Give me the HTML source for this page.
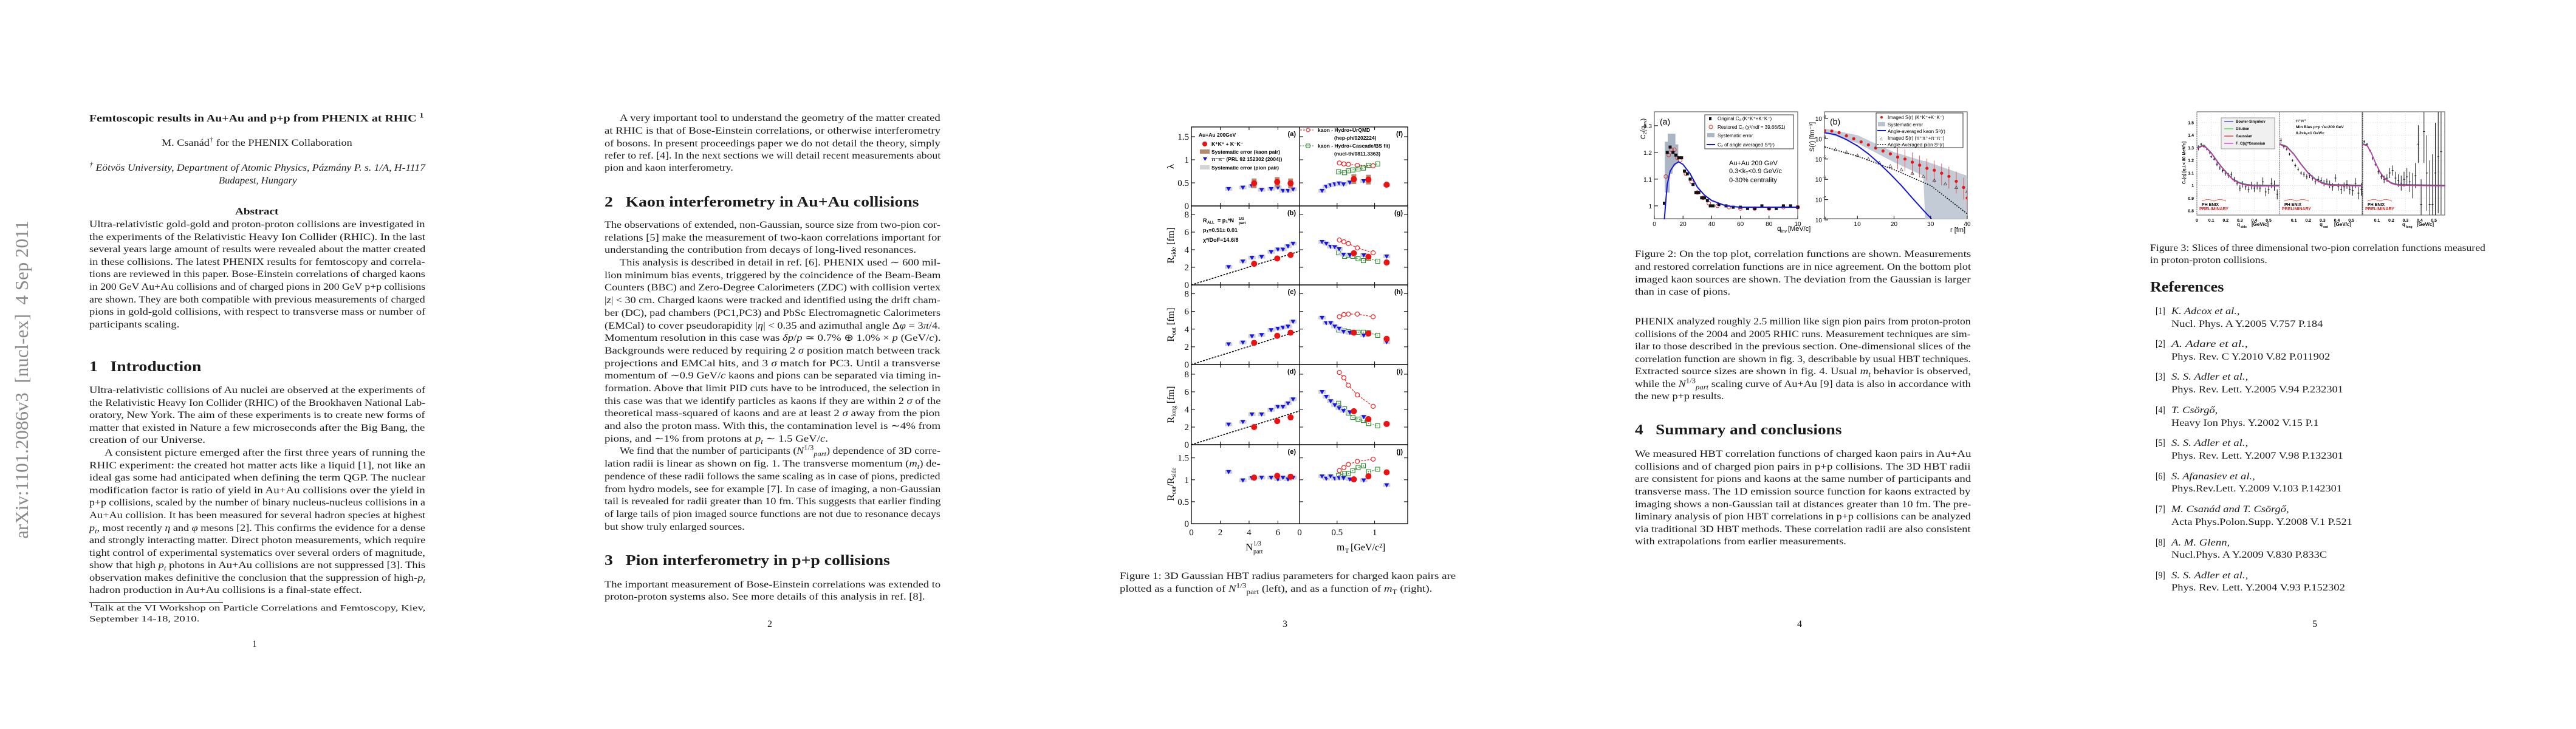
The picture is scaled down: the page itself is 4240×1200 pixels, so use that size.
<!DOCTYPE html>
<html><head><meta charset="utf-8"><title>Femtoscopic results in Au+Au and p+p from PHENIX at RHIC</title>
<style>
html,body{margin:0;padding:0;background:#fff;}
body{width:4240px;height:1200px;position:relative;overflow:hidden;font-family:"Liberation Serif",serif;color:#1a1a1a;}
.ln{position:absolute;white-space:nowrap;font-size:16px;line-height:20px;transform-origin:0 50%;}
.b{font-weight:bold;}
.it{font-style:italic;}
.h{font-weight:bold;font-size:24px;line-height:28px;}
.sm{font-size:14px;}
sub,sup{font-size:70%;line-height:0;}
#arxiv{position:absolute;left:36px;top:625px;transform:translate(-50%,-50%) rotate(-90deg);white-space:nowrap;font-size:31px;color:#8a8a8a;font-family:"Liberation Serif",serif;}
#charts{position:absolute;left:0;top:0;}
.rule{position:absolute;height:1px;background:#333;}
</style></head>
<body>

<div id="arxiv">arXiv:1101.2086v3&nbsp; [nucl-ex]&nbsp; 4 Sep 2011</div>

<!-- PAGE 1 -->
<div>
<div class="ln b" data-w="551" style="left:147px;top:185px;font-size:17px">Femtoscopic results in Au+Au and p+p from PHENIX at RHIC <sup>1</sup></div>
<div class="ln" data-w="314" style="left:266px;top:226px">M. Csanád<sup>†</sup> for the PHENIX Collaboration</div>
<div class="ln it" data-w="553" style="left:147px;top:267px"><sup>†</sup> Eötvös University, Department of Atomic Physics, Pázmány P. s. 1/A, H-1117</div>
<div class="ln it" data-w="128" style="left:360px;top:288px">Budapest, Hungary</div>
<div class="ln b" data-w="72" style="left:387px;top:339px">Abstract</div>
<div>
<div class="ln" data-w="553" style="left:147px;top:360px">Ultra-relativistic gold-gold and proton-proton collisions are investigated in</div>
<div class="ln" data-w="553" style="left:147px;top:381px">the experiments of the Relativistic Heavy Ion Collider (RHIC). In the last</div>
<div class="ln" data-w="553" style="left:147px;top:401px">several years large amount of results were revealed about the matter created</div>
<div class="ln" data-w="553" style="left:147px;top:422px">in these collisions. The latest PHENIX results for femtoscopy and correla-</div>
<div class="ln" data-w="553" style="left:147px;top:442px">tions are reviewed in this paper. Bose-Einstein correlations of charged kaons</div>
<div class="ln" data-w="553" style="left:147px;top:463px">in 200 GeV Au+Au collisions and of charged pions in 200 GeV p+p collisions</div>
<div class="ln" data-w="553" style="left:147px;top:484px">are shown. They are both compatible with previous measurements of charged</div>
<div class="ln" data-w="553" style="left:147px;top:504px">pions in gold-gold collisions, with respect to transverse mass or number of</div>
<div class="ln l" style="left:147px;top:525px">participants scaling.</div>
</div>
<div class="ln h" data-w="184" style="left:147px;top:590px">1&nbsp;&nbsp;&nbsp;Introduction</div>
<div>
<div class="ln" data-w="553" style="left:147px;top:633px">Ultra-relativistic collisions of Au nuclei are observed at the experiments of</div>
<div class="ln" data-w="553" style="left:147px;top:654px">the Relativistic Heavy Ion Collider (RHIC) of the Brookhaven National Lab-</div>
<div class="ln" data-w="553" style="left:147px;top:674px">oratory, New York. The aim of these experiments is to create new forms of</div>
<div class="ln" data-w="553" style="left:147px;top:695px">matter that existed in Nature a few microseconds after the Big Bang, the</div>
<div class="ln l" style="left:147px;top:715px">creation of our Universe.</div>
<div class="ln" data-w="528" style="left:172px;top:736px">A consistent picture emerged after the first three years of running the</div>
<div class="ln" data-w="553" style="left:147px;top:757px">RHIC experiment: the created hot matter acts like a liquid [1], not like an</div>
<div class="ln" data-w="553" style="left:147px;top:777px">ideal gas some had anticipated when defining the term QGP. The nuclear</div>
<div class="ln" data-w="553" style="left:147px;top:798px">modification factor is ratio of yield in Au+Au collisions over the yield in</div>
<div class="ln" data-w="553" style="left:147px;top:818px">p+p collisions, scaled by the number of binary nucleus-nucleus collisions in a</div>
<div class="ln" data-w="553" style="left:147px;top:839px">Au+Au collision. It has been measured for several hadron species at highest</div>
<div class="ln" data-w="553" style="left:147px;top:860px"><i>p<sub>t</sub></i>, most recently <i>η</i> and <i>φ</i> mesons [2]. This confirms the evidence for a dense</div>
<div class="ln" data-w="553" style="left:147px;top:880px">and strongly interacting matter. Direct photon measurements, which require</div>
<div class="ln" data-w="553" style="left:147px;top:901px">tight control of experimental systematics over several orders of magnitude,</div>
<div class="ln" data-w="553" style="left:147px;top:921px">show that high <i>p<sub>t</sub></i> photons in Au+Au collisions are not suppressed [3]. This</div>
<div class="ln" data-w="553" style="left:147px;top:942px">observation makes definitive the conclusion that the suppression of high-<i>p<sub>t</sub></i></div>
<div class="ln l" style="left:147px;top:962px">hadron production in Au+Au collisions is a final-state effect.</div>
</div>
<div class="rule" style="left:147px;top:991px;width:220px"></div>
<div class="ln sm" data-w="553" style="left:147px;top:992px"><sup>1</sup>Talk at the VI Workshop on Particle Correlations and Femtoscopy, Kiev,</div>
<div class="ln sm l" style="left:147px;top:1010px">September 14-18, 2010.</div>
<div class="ln" style="left:415px;top:1051px">1</div>
</div>

<!-- PAGE 2 -->
<div>
<div class="ln" data-w="528" style="left:1020px;top:185px">A very important tool to understand the geometry of the matter created</div>
<div class="ln" data-w="553" style="left:995px;top:206px">at RHIC is that of Bose-Einstein correlations, or otherwise interferometry</div>
<div class="ln" data-w="553" style="left:995px;top:227px">of bosons. In present proceedings paper we do not detail the theory, simply</div>
<div class="ln" data-w="553" style="left:995px;top:247px">refer to ref. [4]. In the next sections we will detail recent measurements about</div>
<div class="ln l" style="left:995px;top:267px">pion and kaon interferometry.</div>
<div class="ln h" data-w="518" style="left:995px;top:319px">2&nbsp;&nbsp;&nbsp;Kaon interferometry in Au+Au collisions</div>
<div>
<div class="ln" data-w="553" style="left:995px;top:361px">The observations of extended, non-Gaussian, source size from two-pion cor-</div>
<div class="ln" data-w="553" style="left:995px;top:382px">relations [5] make the measurement of two-kaon correlations important for</div>
<div class="ln l" style="left:995px;top:402px">understanding the contribution from decays of long-lived resonances.</div>
<div class="ln" data-w="528" style="left:1020px;top:423px">This analysis is described in detail in ref. [6]. PHENIX used ∼ 600 mil-</div>
<div class="ln" data-w="553" style="left:995px;top:444px">lion minimum bias events, triggered by the coincidence of the Beam-Beam</div>
<div class="ln" data-w="553" style="left:995px;top:464px">Counters (BBC) and Zero-Degree Calorimeters (ZDC) with collision vertex</div>
<div class="ln" data-w="553" style="left:995px;top:485px">|<i>z</i>| &lt; 30 cm. Charged kaons were tracked and identified using the drift cham-</div>
<div class="ln" data-w="553" style="left:995px;top:506px">ber (DC), pad chambers (PC1,PC3) and PbSc Electromagnetic Calorimeters</div>
<div class="ln" data-w="553" style="left:995px;top:527px">(EMCal) to cover pseudorapidity |<i>η</i>| &lt; 0.35 and azimuthal angle Δ<i>φ</i> = 3<i>π</i>/4.</div>
<div class="ln" data-w="553" style="left:995px;top:547px">Momentum resolution in this case was <i>δp</i>/<i>p</i> ≃ 0.7% ⊕ 1.0% × <i>p</i> (GeV/<i>c</i>).</div>
<div class="ln" data-w="553" style="left:995px;top:568px">Backgrounds were reduced by requiring 2 <i>σ</i> position match between track</div>
<div class="ln" data-w="553" style="left:995px;top:589px">projections and EMCal hits, and 3 <i>σ</i> match for PC3. Until a transverse</div>
<div class="ln" data-w="553" style="left:995px;top:609px">momentum of ∼0.9 GeV/<i>c</i> kaons and pions can be separated via timing in-</div>
<div class="ln" data-w="553" style="left:995px;top:630px">formation. Above that limit PID cuts have to be introduced, the selection in</div>
<div class="ln" data-w="553" style="left:995px;top:651px">this case was that we identify particles as kaons if they are within 2 <i>σ</i> of the</div>
<div class="ln" data-w="553" style="left:995px;top:671px">theoretical mass-squared of kaons and are at least 2 <i>σ</i> away from the pion</div>
<div class="ln" data-w="553" style="left:995px;top:692px">and also the proton mass. With this, the contamination level is ∼4% from</div>
<div class="ln l" style="left:995px;top:713px">pions, and ∼1% from protons at <i>p<sub>t</sub></i> ∼ 1.5 GeV/<i>c</i>.</div>
<div class="ln" data-w="528" style="left:1020px;top:733px">We find that the number of participants (<i>N</i><sup>1/3</sup><sub><i>part</i></sub>) dependence of 3D corre-</div>
<div class="ln" data-w="553" style="left:995px;top:754px">lation radii is linear as shown on fig. 1. The transverse momentum (<i>m<sub>t</sub></i>) de-</div>
<div class="ln" data-w="553" style="left:995px;top:775px">pendence of these radii follows the same scaling as in case of pions, predicted</div>
<div class="ln" data-w="553" style="left:995px;top:796px">from hydro models, see for example [7]. In case of imaging, a non-Gaussian</div>
<div class="ln" data-w="553" style="left:995px;top:816px">tail is revealed for radii greater than 10 fm. This suggests that earlier finding</div>
<div class="ln" data-w="553" style="left:995px;top:837px">of large tails of pion imaged source functions are not due to resonance decays</div>
<div class="ln l" style="left:995px;top:858px">but show truly enlarged sources.</div>
</div>
<div class="ln h" data-w="470" style="left:995px;top:909px">3&nbsp;&nbsp;&nbsp;Pion interferometry in p+p collisions</div>
<div class="ln" data-w="553" style="left:995px;top:953px">The important measurement of Bose-Einstein correlations was extended to</div>
<div class="ln l" style="left:995px;top:973px">proton-proton systems also. See more details of this analysis in ref. [8].</div>
<div class="ln" style="left:1263px;top:1018px">2</div>
</div>

<!-- PAGE 3 -->
<div>
<div class="ln" data-w="553" style="left:1843px;top:939px">Figure 1: 3D Gaussian HBT radius parameters for charged kaon pairs are</div>
<div class="ln l" style="left:1843px;top:960px">plotted as a function of <i>N</i><sup>1/3</sup><sub>part</sub> (left), and as a function of <i>m</i><sub>T</sub> (right).</div>
<div class="ln" style="left:2111px;top:1018px">3</div>
</div>

<!-- PAGE 4 -->
<div>
<div class="ln" data-w="553" style="left:2691px;top:409px">Figure 2: On the top plot, correlation functions are shown. Measurements</div>
<div class="ln" data-w="553" style="left:2691px;top:430px">and restored correlation functions are in nice agreement. On the bottom plot</div>
<div class="ln" data-w="553" style="left:2691px;top:451px">imaged kaon sources are shown. The deviation from the Gaussian is larger</div>
<div class="ln l" style="left:2691px;top:471px">than in case of pions.</div>
<div class="ln" data-w="553" style="left:2691px;top:520px">PHENIX analyzed roughly 2.5 million like sign pion pairs from proton-proton</div>
<div class="ln" data-w="553" style="left:2691px;top:541px">collisions of the 2004 and 2005 RHIC runs. Measurement techniques are sim-</div>
<div class="ln" data-w="553" style="left:2691px;top:561px">ilar to those described in the previous section. One-dimensional slices of the</div>
<div class="ln" data-w="553" style="left:2691px;top:582px">correlation function are shown in fig. 3, describable by usual HBT techniques.</div>
<div class="ln" data-w="553" style="left:2691px;top:602px">Extracted source sizes are shown in fig. 4. Usual <i>m<sub>t</sub></i> behavior is observed,</div>
<div class="ln" data-w="553" style="left:2691px;top:623px">while the <i>N</i><sup>1/3</sup><sub><i>part</i></sub> scaling curve of Au+Au [9] data is also in accordance with</div>
<div class="ln l" style="left:2691px;top:643px">the new p+p results.</div>
<div class="ln h" data-w="340" style="left:2691px;top:694px">4&nbsp;&nbsp;&nbsp;Summary and conclusions</div>
<div>
<div class="ln" data-w="553" style="left:2691px;top:738px">We measured HBT correlation functions of charged kaon pairs in Au+Au</div>
<div class="ln" data-w="553" style="left:2691px;top:759px">collisions and of charged pion pairs in p+p collisions. The 3D HBT radii</div>
<div class="ln" data-w="553" style="left:2691px;top:779px">are consistent for pions and kaons at the same number of participants and</div>
<div class="ln" data-w="553" style="left:2691px;top:800px">transverse mass. The 1D emission source function for kaons extracted by</div>
<div class="ln" data-w="553" style="left:2691px;top:821px">imaging shows a non-Gaussian tail at distances greater than 10 fm. The pre-</div>
<div class="ln" data-w="553" style="left:2691px;top:841px">liminary analysis of pion HBT correlations in p+p collisions can be analyzed</div>
<div class="ln" data-w="553" style="left:2691px;top:862px">via traditional 3D HBT methods. These correlation radii are also consistent</div>
<div class="ln l" style="left:2691px;top:882px">with extrapolations from earlier measurements.</div>
</div>
<div class="ln" style="left:2958px;top:1018px">4</div>
</div>

<!-- PAGE 5 -->
<div>
<div class="ln" data-w="552" style="left:3539px;top:399px">Figure 3: Slices of three dimensional two-pion correlation functions measured</div>
<div class="ln l" style="left:3539px;top:419px">in proton-proton collisions.</div>
<div class="ln h" data-w="122" style="left:3539px;top:459px">References</div>
<div>
<div class="ln" data-w="16" style="left:3548px;top:503px">[1]</div><div class="ln it" data-w="112" style="left:3574px;top:503px">K. Adcox et al.,</div><div class="ln" data-w="249" style="left:3574px;top:524px">Nucl. Phys. A Y.2005 V.757 P.184</div>
<div class="ln" data-w="16" style="left:3548px;top:557px">[2]</div><div class="ln it" data-w="126" style="left:3574px;top:557px">A. Adare et al.,</div><div class="ln" data-w="261" style="left:3574px;top:578px">Phys. Rev. C Y.2010 V.82 P.011902</div>
<div class="ln" data-w="16" style="left:3548px;top:611px">[3]</div><div class="ln it" data-w="126" style="left:3574px;top:611px">S. S. Adler et al.,</div><div class="ln" data-w="283" style="left:3574px;top:632px">Phys. Rev. Lett. Y.2005 V.94 P.232301</div>
<div class="ln" data-w="16" style="left:3548px;top:666px">[4]</div><div class="ln it" data-w="76" style="left:3574px;top:666px">T. Csörgő,</div><div class="ln" data-w="242" style="left:3574px;top:687px">Heavy Ion Phys. Y.2002 V.15 P.1</div>
<div class="ln" data-w="16" style="left:3548px;top:720px">[5]</div><div class="ln it" data-w="126" style="left:3574px;top:720px">S. S. Adler et al.,</div><div class="ln" data-w="283" style="left:3574px;top:741px">Phys. Rev. Lett. Y.2007 V.98 P.132301</div>
<div class="ln" data-w="16" style="left:3548px;top:775px">[6]</div><div class="ln it" data-w="138" style="left:3574px;top:775px">S. Afanasiev et al.,</div><div class="ln" data-w="281" style="left:3574px;top:795px">Phys.Rev.Lett. Y.2009 V.103 P.142301</div>
<div class="ln" data-w="16" style="left:3548px;top:829px">[7]</div><div class="ln it" data-w="193" style="left:3574px;top:829px">M. Csanád and T. Csörgő,</div><div class="ln" data-w="298" style="left:3574px;top:850px">Acta Phys.Polon.Supp. Y.2008 V.1 P.521</div>
<div class="ln" data-w="16" style="left:3548px;top:884px">[8]</div><div class="ln it" data-w="96" style="left:3574px;top:884px">A. M. Glenn,</div><div class="ln" data-w="256" style="left:3574px;top:904px">Nucl.Phys. A Y.2009 V.830 P.833C</div>
<div class="ln" data-w="16" style="left:3548px;top:938px">[9]</div><div class="ln it" data-w="126" style="left:3574px;top:938px">S. S. Adler et al.,</div><div class="ln" data-w="286" style="left:3574px;top:958px">Phys. Rev. Lett. Y.2004 V.93 P.152302</div>
</div>
<div class="ln" style="left:3806px;top:1018px">5</div>
</div>

<svg id="charts" width="4240" height="1200" viewBox="0 0 4240 1200"></svg>

<script>
// ---------- Text line fitting ----------
(function(){
  let last=1;
  document.querySelectorAll('.ln').forEach(function(el){
    const w=el.offsetWidth;
    let s=last;
    if(el.dataset.w){ s=parseFloat(el.dataset.w)/w; if(!el.classList.contains('h')&&el.dataset.w>400) last=s; }
    else if(!el.classList.contains('l')) s=1;
    el.style.transform='scaleX('+s+')';
  });
})();

// ---------- Figure 1 data (N_part^1/3 and m_T) ----------
const npartPion=[2.58,3.57,4.20,4.87,5.53,6.0,6.35,6.70,7.05];
const npartKaon=[4.35,5.95,6.88];
const lambdaPionN=[0.37,0.40,0.43,0.35,0.37,0.40,0.33,0.33,0.36];
const lambdaKaonN=[0.49,0.52,0.49];
const rsidePionN=[2.04,2.67,3.1,3.2,3.75,4.04,4.04,4.4,4.7];
const rsideKaonN=[2.4,3.0,3.4];
const routPionN=[2.3,2.5,3.2,3.35,3.9,4.06,4.18,4.3,4.85];
const routKaonN=[2.45,3.25,3.6];
const rlongPionN=[2.3,2.6,3.45,3.45,3.95,4.3,4.3,4.7,5.15];
const rlongKaonN=[2.0,2.67,3.1];
const ratioPionN=[1.18,0.99,1.04,1.05,1.05,1.01,1.05,1.01,1.05];
const ratioKaonN=[1.05,1.09,1.07];
const fitP1=0.51;

const mtPion=[0.30,0.356,0.414,0.47,0.527,0.586,0.67,0.855,1.16];
const mtKaon=[0.723,0.917,1.16];
const mtHydro=[0.53,0.59,0.65,0.77,0.98];
const mtCasc=[0.52,0.60,0.65,0.71,0.78,0.85,0.92,1.04];
const lambdaPionM=[0.33,0.42,0.45,0.47,0.49,0.47,0.51,0.54,0.45];
const lambdaKaonM=[0.58,0.57,0.46];
const lambdaHydroM=[0.93,0.91,0.90,0.88,0.87];
const lambdaCascM=[0.74,0.72,0.76,0.78,0.80,0.82,0.88,0.91];
const rsidePionM=[4.9,4.7,4.35,4.3,4.07,3.45,3.38,3.38,3.24];
const rsideKaonM=[3.6,3.2,2.55];
const rsideHydroM=[5.1,4.9,4.7,4.2,3.65];
const rsideCascM=[3.65,3.25,3.38,3.25,2.97,2.76,3.03,2.69];
const routPionM=[5.3,4.7,4.7,4.3,4.07,3.72,3.6,3.3,2.55];
const routKaonM=[3.6,3.5,2.9];
const routHydroM=[5.4,5.65,5.7,5.7,5.4];
const routCascM=[3.9,3.8,3.7,3.65,3.65,3.65,3.6,3.3];
const rlongPionM=[6.0,5.45,4.95,4.5,4.15,3.85,3.7,3.15,2.4];
const rlongKaonM=[3.8,2.9,2.35];
const rlongHydroM=[8.2,7.6,6.75,5.65,4.35];
const rlongCascM=[4.7,4.07,3.6,3.1,2.9,2.75,2.4,2.15];
const ratioPionM=[1.08,1.03,1.08,1.03,1.04,1.04,1.01,0.99,0.88];
const ratioKaonM=[1.01,1.08,1.17];
const ratioHydroM=[1.21,1.28,1.35,1.42,1.47];
const ratioCascM=[1.1,1.14,1.14,1.21,1.28,1.32,1.18,1.24];

const tickLambda=[0,0.5,1,1.5];
const tickRadius=[0,2,4,6,8];
const tickNpart=[0,2,4,6];
const tickMt=[0,0.5,1];

// ---------- Figure 2 data ----------
const qOrig=[7,9,11,13,15,17,19,21,23,25,27,29,31,33,35,37,39,41,45,50,55,60,65,70,75,80,85,90,95,100];
const c2Orig=[1.01,1.20,1.22,1.20,1.19,1.18,1.18,1.13,1.12,1.10,1.08,1.05,1.05,1.03,1.03,1.02,1.00,1.00,1.005,1.0,0.995,0.995,0.99,0.99,1.0,0.99,0.99,1.0,1.0,0.995];
const qRest=[8,10,12,14,16,18,22,26,30,34,38,44,52,60,70,80,90,100];
const c2Rest=[1.11,1.19,1.21,1.21,1.18,1.17,1.12,1.09,1.05,1.03,1.01,1.0,0.995,0.99,0.99,0.99,0.995,0.995];
const qCurve=[7,8,9,11,14,17,20,25,30,35,40,50,60,80,100];
const c2Curve=[0.95,1.02,1.08,1.13,1.155,1.165,1.155,1.12,1.07,1.04,1.02,1.0,0.995,0.995,0.995];
const qSys=[9,11,13,15];
const c2SysLo=[1.05,1.12,1.15,1.16];
const c2SysHi=[1.24,1.27,1.27,1.23];

const rRed=[1,3,5,7,9,11,13,15,17,19,21,23,25,27,29,31,33,35,37,39,40];
const sRed=[2.5e-4,2.4e-4,2e-4,1.4e-4,1e-4,7e-5,5e-5,3.5e-5,2.5e-5,1.8e-5,1.25e-5,1e-5,7e-6,5e-6,3.5e-6,2.8e-6,2e-6,1.4e-6,8e-7,4e-7,1.2e-7];
const rBlue=[1,4,7,10,13,16,19,22,25,28,31];
const sBlue=[2e-4,1.6e-4,9e-5,4.5e-5,1.8e-5,6e-6,1.8e-6,5e-7,1.2e-7,3e-8,8e-9];
const rPion=[1,4,7,10,13,16,19,22,25,28,31,34,37,40];
const sPion=[4e-5,3e-5,2.2e-5,1.5e-5,1e-5,6.5e-6,4.5e-6,3e-6,2e-6,1.4e-6,9e-7,6e-7,4e-7,2.5e-7];
const rPionAvg=[1,10,20,30,40];
const sPionAvg=[4e-5,1.4e-5,3e-6,5e-7,2e-8];
const rBand=[1,10,20,28,28.5,40];
const sBandHi=[3.2e-4,1.5e-4,2.2e-5,8e-6,8e-6,1.5e-6];
const sBandLo=[2e-4,6e-5,7e-6,1.5e-6,1e-8,1e-8];

// ---------- Figure 3 data ----------
const qSide=[0.01,0.03,0.05,0.07,0.09,0.10,0.12,0.14,0.16,0.18,0.2,0.22,0.24,0.26,0.28,0.3,0.32,0.34,0.36,0.38,0.4,0.42,0.44,0.46,0.48,0.5,0.52,0.54,0.56];
const cSide=[1.30,1.33,1.31,1.29,1.26,1.23,1.21,1.17,1.14,1.12,1.10,1.08,1.09,1.05,1.02,0.98,1.01,0.99,0.97,1.0,0.98,1.0,0.98,1.03,0.95,0.97,1.02,1.0,0.93];
const eSide=[0.02,0.01,0.01,0.01,0.01,0.01,0.01,0.015,0.015,0.015,0.02,0.02,0.02,0.02,0.02,0.025,0.025,0.025,0.025,0.03,0.03,0.03,0.03,0.035,0.035,0.035,0.04,0.04,0.04];
const qOut=[0.01,0.03,0.05,0.07,0.09,0.11,0.13,0.15,0.17,0.19,0.21,0.23,0.25,0.27,0.29,0.31,0.33,0.35,0.37,0.39,0.41,0.43,0.45,0.47,0.49,0.51,0.53,0.55,0.57];
const cOut=[1.36,1.31,1.29,1.25,1.20,1.16,1.13,1.10,1.09,1.07,1.08,1.06,1.03,1.05,1.04,1.02,1.03,1.01,0.99,1.06,0.99,0.97,0.99,1.01,0.97,0.96,1.02,0.94,0.97];
const eOut=[0.02,0.015,0.01,0.01,0.01,0.015,0.015,0.015,0.02,0.02,0.02,0.02,0.02,0.025,0.025,0.025,0.025,0.03,0.03,0.03,0.03,0.035,0.035,0.035,0.04,0.04,0.04,0.05,0.05];
const qLong=[0.01,0.03,0.05,0.07,0.09,0.11,0.13,0.15,0.17,0.19,0.21,0.23,0.25,0.27,0.29,0.31,0.33,0.35,0.37,0.39,0.41,0.43,0.45,0.47,0.49,0.51,0.53,0.55];
const cLong=[1.35,1.33,1.28,1.22,1.17,1.11,1.07,1.05,1.06,1.10,1.12,1.06,1.04,1.02,1.05,1.07,1.03,1.0,1.08,1.33,0.85,1.43,1.10,0.85,0.85,1.10,1.23,1.27];
const eLong=[0.01,0.01,0.01,0.015,0.015,0.02,0.02,0.03,0.03,0.04,0.04,0.05,0.05,0.06,0.06,0.07,0.08,0.1,0.1,0.15,0.2,0.25,0.3,0.35,0.4,0.4,0.45,0.5];
const qCurveSide=[0,0.05,0.1,0.15,0.2,0.25,0.3,0.35,0.4,0.58];
const cCurveSide=[1.30,1.32,1.26,1.18,1.11,1.05,1.02,1.005,1.0,1.0];
const qCurveOut=[0,0.05,0.1,0.15,0.2,0.25,0.3,0.35,0.58];
const cCurveOut=[1.33,1.31,1.25,1.17,1.10,1.05,1.02,1.005,1.0];
const qCurveLong=[0,0.03,0.06,0.09,0.12,0.15,0.2,0.25,0.58];
const cCurveLong=[1.33,1.32,1.26,1.18,1.11,1.06,1.02,1.005,1.0];
const tickC2pp=[0.8,0.9,1,1.1,1.2,1.3,1.4,1.5];
const tickQ=[0,0.1,0.2,0.3,0.4,0.5];

// ---------- helpers ----------
const svg=document.getElementById('charts');
const NS='http://www.w3.org/2000/svg';
function mk(tag,attrs,name,parent){
  const e=document.createElementNS(NS,tag);
  for(const k in attrs) e.setAttribute(k,attrs[k]);
  
  
  (parent||svg).appendChild(e);
  return e;
}
function txt(x,y,s,attrs,name){const t=mk('text',Object.assign({x:x,y:y},attrs),name);t.textContent=s;return t;}
function span(t,s,attrs){const e=document.createElementNS(NS,'tspan');for(const k in attrs)e.setAttribute(k,attrs[k]);e.textContent=s;t.appendChild(e);return e;}
function lin(d0,d1,r0,r1){return function(v){return r0+(v-d0)/(d1-d0)*(r1-r0);};}
function poly(xs,ys,sx,sy){return xs.map(function(x,i){return sx(x).toFixed(1)+','+sy(ys[i]).toFixed(1);}).join(' ');}
const SANS='"Liberation Sans",sans-serif', SERIF='"Liberation Serif",serif';

// ---------- Figure 1 ----------
const f1 = mk('g',{},'figure-1');
const xL=lin(0,7.5,1961,2139), xR=lin(0,1.44,2139,2317);
const f1rows=[
 {top:209,bot:339,max:1.71,ticks:tickLambda,title:['λ','',''],lab:['(a)','(f)'],pN:lambdaPionN,kN:lambdaKaonN,pM:lambdaPionM,kM:lambdaKaonM,hM:lambdaHydroM,cM:lambdaCascM,fit:false},
 {top:339,bot:469,max:8.97,ticks:tickRadius,title:['R','side',' [fm]'],lab:['(b)','(g)'],pN:rsidePionN,kN:rsideKaonN,pM:rsidePionM,kM:rsideKaonM,hM:rsideHydroM,cM:rsideCascM,fit:true},
 {top:469,bot:600,max:9.0,ticks:tickRadius,title:['R','out',' [fm]'],lab:['(c)','(h)'],pN:routPionN,kN:routKaonN,pM:routPionM,kM:routKaonM,hM:routHydroM,cM:routCascM,fit:true},
 {top:600,bot:732,max:9.1,ticks:tickRadius,title:['R','long',' [fm]'],lab:['(d)','(i)'],pN:rlongPionN,kN:rlongKaonN,pM:rlongPionM,kM:rlongKaonM,hM:rlongHydroM,cM:rlongCascM,fit:true},
 {top:732,bot:862,max:1.8,ticks:tickLambda,title:['R','out','/R','side'],lab:['(e)','(j)'],pN:ratioPionN,kN:ratioKaonN,pM:ratioPionM,kM:ratioKaonM,hM:ratioHydroM,cM:ratioCascM,fit:false}
];
function pionMark(x,y,g){mk('rect',{x:x-6,y:y-3,width:12,height:6,fill:'#cfcfd8'},'pion-systematic-box',g);
  mk('path',{d:'M'+(x-4)+','+(y-3)+'L'+(x+4)+','+(y-3)+'L'+x+','+(y+4)+'Z',fill:'#1616e0'},'pion-point',g);}
function kaonMark(x,y,g,sys){ if(sys) mk('rect',{x:x-4,y:y-8,width:8,height:16,fill:'#b8896e'},'kaon-systematic-box',g);
  mk('circle',{cx:x,cy:y,r:5,fill:'#ee1111'},'kaon-point',g);}
f1rows.forEach(function(r,ri){
  const sy=lin(0,r.max,r.bot,r.top);
  const g=mk('g',{},'fig1-row-'+(ri+1),f1);
  mk('rect',{x:1961,y:r.top,width:356,height:r.bot-r.top,fill:'none',stroke:'#000','stroke-width':1.3},'panel-frame',g);
  mk('line',{x1:2139,y1:r.top,x2:2139,y2:r.bot,stroke:'#000','stroke-width':1.3},'panel-divider',g);
  r.ticks.forEach(function(t){
    mk('line',{x1:1961,y1:sy(t),x2:1967,y2:sy(t),stroke:'#000'},'y-tick',g);
    mk('line',{x1:2139,y1:sy(t),x2:2145,y2:sy(t),stroke:'#000'},'y-tick',g);
    mk('line',{x1:2311,y1:sy(t),x2:2317,y2:sy(t),stroke:'#000'},'y-tick',g);
    txt(1957,sy(t)+5,String(t),{'font-family':SERIF,'font-size':15,'text-anchor':'end'},'y-tick-label');
  });
  tickNpart.forEach(function(t){mk('line',{x1:xL(t),y1:r.bot,x2:xL(t),y2:r.bot-5,stroke:'#000'},'x-tick',g);mk('line',{x1:xL(t),y1:r.top,x2:xL(t),y2:r.top+5,stroke:'#000'},'x-tick',g);});
  tickMt.forEach(function(t){mk('line',{x1:xR(t),y1:r.bot,x2:xR(t),y2:r.bot-5,stroke:'#000'},'x-tick',g);mk('line',{x1:xR(t),y1:r.top,x2:xR(t),y2:r.top+5,stroke:'#000'},'x-tick',g);});
  const cyT=(r.top+r.bot)/2;
  const tt=mk('text',{x:1932,y:cyT,'font-family':SERIF,'font-size':16,'text-anchor':'middle',transform:'rotate(-90 1932 '+cyT+')'},'y-axis-title');
  span(tt,r.title[0],{});
  if(r.title[1]) span(tt,r.title[1],{'font-size':10,dy:3});
  if(r.title[2]) span(tt,r.title[2],{dy:-3});
  if(r.title[3]) span(tt,r.title[3],{'font-size':10,dy:3});
  txt(2133,r.top+15,r.lab[0],{'font-family':SANS,'font-size':11,'font-weight':'bold','text-anchor':'end'},'panel-label');
  txt(2309,r.top+15,r.lab[1],{'font-family':SANS,'font-size':11,'font-weight':'bold','text-anchor':'end'},'panel-label');
  if(r.fit) mk('line',{x1:xL(0),y1:sy(0),x2:xL(7.5),y2:sy(fitP1*7.5),stroke:'#000','stroke-width':1.6,'stroke-dasharray':'3,2'},'fit-line',g);
  npartPion.forEach(function(x,i){pionMark(xL(x),sy(r.pN[i]),g);});
  npartKaon.forEach(function(x,i){kaonMark(xL(x),sy(r.kN[i]),g,ri===0);});
  mk('polyline',{points:poly(mtHydro,r.hM,xR,sy),fill:'none',stroke:'#e22','stroke-width':1.3,'stroke-dasharray':'3,2'},'hydro-urqmd-line',g);
  mk('polyline',{points:poly(mtCasc,r.cM,xR,sy),fill:'none',stroke:'#2a8a2a','stroke-width':1.2,'stroke-dasharray':'2,2'},'hydro-cascade-line',g);
  mtHydro.forEach(function(x,i){mk('circle',{cx:xR(x),cy:sy(r.hM[i]),r:3.5,fill:'#fff',stroke:'#e22','stroke-width':1.2},'hydro-urqmd-point',g);});
  mtCasc.forEach(function(x,i){mk('rect',{x:xR(x)-3.5,y:sy(r.cM[i])-3.5,width:7,height:7,fill:'none',stroke:'#2a8a2a','stroke-width':1.1},'hydro-cascade-point',g);});
  mtPion.forEach(function(x,i){pionMark(xR(x),sy(r.pM[i]),g);});
  mtKaon.forEach(function(x,i){kaonMark(xR(x),sy(r.kM[i]),g,ri===0&&i<2);});
});
tickNpart.forEach(function(t){txt(xL(t),881,String(t),{'font-family':SERIF,'font-size':15,'text-anchor':'middle'},'x-tick-label');});
tickMt.forEach(function(t){txt(xR(t),881,String(t),{'font-family':SERIF,'font-size':15,'text-anchor':'middle'},'x-tick-label');});
txt(2050,906,'N',{'font-family':SERIF,'font-size':17},'x-axis-title-npart');
txt(2063,898,'1/3',{'font-family':SERIF,'font-size':10},'x-axis-title-exp');
txt(2063,911,'part',{'font-family':SERIF,'font-size':10},'x-axis-title-sub');
txt(2200,906,'m',{'font-family':SERIF,'font-size':17},'x-axis-title-mt');
txt(2214,910,'T',{'font-family':SERIF,'font-size':10},'x-axis-title-sub');
txt(2223,906,'[GeV/c²]',{'font-family':SERIF,'font-size':16},'x-axis-title-unit');
// legends
const lf={'font-family':SANS,'font-size':8.5,'font-weight':'bold'};
txt(1973,225,'Au+Au 200GeV',lf,'legend-title');
mk('circle',{cx:1983,cy:237,r:4,fill:'#e11'},'legend-kaon-marker');txt(1994,240,'K⁺K⁺ + K⁻K⁻',lf,'legend-kaon');
mk('rect',{x:1975,y:246,width:16,height:7,fill:'#b8896e'},'legend-kaon-sys-marker');txt(1994,253,'Systematic error (kaon pair)',lf,'legend-kaon-sys');
mk('path',{d:'M1980,259L1987,259L1983.5,265Z',fill:'#1616e0'},'legend-pion-marker');txt(1994,265,'π⁻π⁻ (PRL 92 152302 (2004))',lf,'legend-pion');
mk('rect',{x:1975,y:272,width:16,height:7,fill:'#d4d4d4'},'legend-pion-sys-marker');txt(1994,279,'Systematic error (pion pair)',lf,'legend-pion-sys');
mk('line',{x1:2140,y1:214,x2:2162,y2:214,stroke:'#e22','stroke-dasharray':'3,2'},'legend-hydro-line');mk('circle',{cx:2153,cy:214,r:3,fill:'#fff',stroke:'#e22'},'legend-hydro-marker');
txt(2169,217,'kaon - Hydro+UrQMD',lf,'legend-hydro');txt(2196,230,'(hep-ph/0202224)',lf,'legend-hydro-ref');
mk('line',{x1:2140,y1:240,x2:2162,y2:240,stroke:'#2a8a2a','stroke-dasharray':'2,2'},'legend-cascade-line');mk('rect',{x:2150,y:237,width:6,height:6,fill:'none',stroke:'#2a8a2a'},'legend-cascade-marker');
txt(2169,243,'kaon - Hydro+Cascade/BS fit)',lf,'legend-cascade');txt(2196,256,'(nucl-th/0811.3363)',lf,'legend-cascade-ref');
const bf={'font-family':SANS,'font-size':9,'font-weight':'bold'};
txt(1980,366,'R',bf,'fit-text');txt(1987,368,'ALL',{'font-family':SANS,'font-size':6,'font-weight':'bold'},'fit-text');txt(2004,366,'= p₁*N',bf,'fit-text');txt(2039,362,'1/3',{'font-family':SANS,'font-size':6,'font-weight':'bold'},'fit-text');txt(2039,369,'part',{'font-family':SANS,'font-size':6,'font-weight':'bold'},'fit-text');
txt(1980,382,'p₁=0.51± 0.01',bf,'fit-parameter');
txt(1980,398,'χ²/DoF=14.6/8',bf,'fit-chi2');

// ---------- Figure 2a ----------
const f2a=mk('g',{},'figure-2a');
const qx=lin(0,100,2723,2959), cy=lin(0.952,1.352,360,184);
mk('rect',{x:2723,y:184,width:236,height:176,fill:'none',stroke:'#444','stroke-width':1},'panel-frame',f2a);
qSys.forEach(function(q,i){mk('rect',{x:qx(q)-4,y:cy(c2SysHi[i]),width:8,height:cy(c2SysLo[i])-cy(c2SysHi[i]),fill:'#aab6c4'},'systematic-error-box',f2a);});
[1,1.1,1.2,1.3].forEach(function(t){mk('line',{x1:2723,y1:cy(t),x2:2729,y2:cy(t),stroke:'#000'},'y-tick',f2a);txt(2719,cy(t)+4,String(t),{'font-family':SANS,'font-size':10,'text-anchor':'end'},'y-tick-label');});
[0,20,40,60,80,100].forEach(function(t){mk('line',{x1:qx(t),y1:360,x2:qx(t),y2:355,stroke:'#000'},'x-tick',f2a);txt(qx(t),372,t===100?'10':String(t),{'font-family':SANS,'font-size':10,'text-anchor':'middle'},'x-tick-label');});
qRest.forEach(function(q,i){mk('circle',{cx:qx(q),cy:cy(c2Rest[i]),r:3,fill:'none',stroke:'#d33','stroke-width':1},'restored-c2-point',f2a);});
qOrig.forEach(function(q,i){mk('rect',{x:qx(q)-2.5,y:cy(c2Orig[i])-2.5,width:5,height:5,fill:'#111'},'original-c2-point',f2a);});
mk('polyline',{points:poly(qCurve,c2Curve,qx,cy),fill:'none',stroke:'#1515d5','stroke-width':2},'c2-angle-averaged-curve',f2a);
txt(2732,205,'(a)',{'font-family':SANS,'font-size':14},'panel-label');
const ya=mk('text',{x:2708,y:212,'font-family':SANS,'font-size':11,'text-anchor':'middle',transform:'rotate(-90 2708 212)'},'y-axis-title');
span(ya,'C',{});span(ya,'2',{'font-size':7,dy:2});span(ya,'(q',{dy:-2});span(ya,'inv',{'font-size':7,dy:2});span(ya,')',{dy:-2});
txt(2925,380,'q',{'font-family':SANS,'font-size':12},'x-axis-title');txt(2932,383,'inv',{'font-family':SANS,'font-size':7},'x-axis-title-sub');txt(2943,380,'[MeV/c]',{'font-family':SANS,'font-size':11},'x-axis-title-unit');
mk('rect',{x:2806,y:189,width:146,height:56,fill:'#fff',stroke:'#333'},'legend-box',f2a);
const lf2={'font-family':SANS,'font-size':8};
mk('rect',{x:2813,y:193,width:4,height:5,fill:'#111'},'legend-marker',f2a);txt(2827,198,'Original C₂ (K⁺K⁺+K⁻K⁻)',lf2,'legend-original');
mk('circle',{cx:2816,cy:209,r:3,fill:'none',stroke:'#d33'},'legend-marker',f2a);txt(2827,212,'Restored C₂ (χ²/ndf = 39.66/51)',lf2,'legend-restored');
mk('rect',{x:2810,y:219,width:12,height:7,fill:'#aab6c4'},'legend-marker',f2a);txt(2827,226,'Systematic error',lf2,'legend-systematic');
mk('line',{x1:2809,y1:238,x2:2823,y2:238,stroke:'#1515d5','stroke-width':2},'legend-marker',f2a);txt(2827,241,'C₂ of angle averaged S⁰(r)',lf2,'legend-curve');
const lf3={'font-family':SANS,'font-size':11};
txt(2846,272,'Au+Au 200 GeV',lf3,'annotation');
const an2=txt(2846,285,'0.3<k',lf3,'annotation');span(an2,'T',{'font-size':7,dy:2});span(an2,'<0.9 GeV/c',{dy:-2});
txt(2846,300,'0-30% centrality',lf3,'annotation');

// ---------- Figure 2b ----------
const f2b=mk('g',{},'figure-2b');
const rx=lin(1,40,3003,3238);
function sy2(v){return 195+(-3-Math.log10(v))*33.4;}
mk('rect',{x:3003,y:184,width:235,height:176,fill:'none',stroke:'#444'},'panel-frame',f2b);
mk('clipPath',{id:'clipb'},'clip',f2b);
const cp=document.getElementById('clipb');mk('rect',{x:3003,y:184,width:235,height:176},'clip-rect',cp);
const gb=mk('g',{'clip-path':'url(#clipb)'},'panel-content',f2b);
const bandPts=rBand.map(function(r,i){return rx(r)+','+sy2(sBandHi[i]);}).concat(rBand.slice().reverse().map(function(r,i){return rx(r)+','+sy2(sBandLo[rBand.length-1-i]);})).join(' ');
mk('polygon',{points:bandPts,fill:'#c3ccd6'},'systematic-error-band',gb);
rRed.forEach(function(r,i){ if(r>20) mk('line',{x1:rx(r),y1:sy2(sRed[i]*3),x2:rx(r),y2:sy2(sRed[i]/4),stroke:'#e33','stroke-width':0.8},'error-bar',gb);});
mk('polyline',{points:poly(rPionAvg,sPionAvg,rx,sy2),fill:'none',stroke:'#111','stroke-width':1.6,'stroke-dasharray':'2,2'},'pion-angle-averaged-curve',gb);
rPion.forEach(function(r,i){mk('path',{d:'M'+(rx(r)-2.5)+','+(sy2(sPion[i])+2)+'l2.5,-4.5l2.5,4.5z',fill:'none',stroke:'#333','stroke-width':0.7},'pion-imaged-point',gb);});
mk('polyline',{points:poly(rBlue,sBlue,rx,sy2),fill:'none',stroke:'#1515d5','stroke-width':2},'kaon-angle-averaged-curve',gb);
rRed.forEach(function(r,i){mk('circle',{cx:rx(r),cy:sy2(sRed[i]),r:2.6,fill:'#e81515'},'kaon-imaged-point',gb);});
[1e-3,1e-4,1e-5,1e-6,1e-7,1e-8].forEach(function(v,i){txt(2999,sy2(v)+4,'10',{'font-family':SANS,'font-size':10,'text-anchor':'end'},'y-tick-label');txt(3000,sy2(v)-1,'-'+(i+3),{'font-family':SANS,'font-size':6},'y-tick-exp');mk('line',{x1:3003,y1:sy2(v),x2:3009,y2:sy2(v),stroke:'#000'},'y-tick',f2b);});
[10,20,30,40].forEach(function(t){mk('line',{x1:rx(t),y1:360,x2:rx(t),y2:355,stroke:'#000'},'x-tick',f2b);txt(rx(t),372,String(t),{'font-family':SANS,'font-size':10,'text-anchor':'middle'},'x-tick-label');});
txt(3012,205,'(b)',{'font-family':SANS,'font-size':14},'panel-label');
txt(2986,250,'S(r) [fm⁻³]',{'font-family':SANS,'font-size':11,transform:'rotate(-90 2986 250)'},'y-axis-title');
txt(3210,382,'r [fm]',{'font-family':SANS,'font-size':11},'x-axis-title');
mk('rect',{x:3088,y:186,width:143,height:57,fill:'#fff',stroke:'#333'},'legend-box',f2b);
mk('circle',{cx:3097,cy:193,r:2,fill:'#e11'},'legend-marker',f2b);txt(3107,196,'Imaged S(r) (K⁺K⁺+K⁻K⁻)',lf2,'legend-kaon-imaged');
mk('rect',{x:3091,y:201,width:12,height:7,fill:'#b7c3cf'},'legend-marker',f2b);txt(3107,208,'Systematic error',lf2,'legend-systematic');
mk('line',{x1:3090,y1:215,x2:3104,y2:215,stroke:'#1515d5','stroke-width':2},'legend-marker',f2b);txt(3107,219,'Angle-averaged kaon S⁰(r)',lf2,'legend-kaon-curve');
txt(3094,230,'△',{'font-family':SANS,'font-size':6},'legend-marker');txt(3107,230,'Imaged S(r) (π⁺π⁺+π⁻π⁻)',lf2,'legend-pion-imaged');
mk('line',{x1:3090,y1:238,x2:3104,y2:238,stroke:'#111','stroke-width':1.6,'stroke-dasharray':'2,2'},'legend-marker',f2b);txt(3107,241,'Angle-Averaged pion S⁰(r)',lf2,'legend-pion-curve');

// ---------- Figure 3 ----------
const f3=mk('g',{},'figure-3');
const f3panels=[{x0:3616,q:qSide,c:cSide,e:eSide,qc:qCurveSide,cc:cCurveSide,title:'side',first:true},
                {x0:3752,q:qOut,c:cOut,e:eOut,qc:qCurveOut,cc:cCurveOut,title:'out',first:false},
                {x0:3889,q:qLong,c:cLong,e:eLong,qc:qCurveLong,cc:cCurveLong,title:'long',first:false}];
const cy3=lin(0.766,1.587,354,184);
f3panels.forEach(function(p,pi){
  const g=mk('g',{},'fig3-panel-'+p.title,f3);
  const w=(pi===2)?135:136;
  const sx=lin(0,0.576,p.x0,p.x0+w);
  mk('rect',{x:p.x0,y:184,width:w,height:170,fill:'#fff',stroke:'#555'},'panel-frame',g);
  tickC2pp.forEach(function(t){mk('line',{x1:p.x0,y1:cy3(t),x2:p.x0+w,y2:cy3(t),stroke:'#ddd','stroke-dasharray':'1,2'},'grid-line',g);});
  tickQ.forEach(function(t){mk('line',{x1:sx(t),y1:184,x2:sx(t),y2:354,stroke:'#ddd','stroke-dasharray':'1,2'},'grid-line',g);
    if(t>0||p.first) txt(sx(t),365,String(t),{'font-family':SANS,'font-size':7,'font-weight':'bold','text-anchor':'middle'},'x-tick-label');});
  p.q.forEach(function(q,i){const x=sx(q);if(x>p.x0+w)return;
    mk('line',{x1:x,y1:Math.max(184,cy3(p.c[i]+p.e[i])),x2:x,y2:Math.min(354,cy3(p.c[i]-p.e[i])),stroke:'#111','stroke-width':1},'error-bar',g);
    mk('line',{x1:x-1.5,y1:cy3(p.c[i]),x2:x+1.5,y2:cy3(p.c[i]),stroke:'#111','stroke-width':1},'data-point',g);});
  const cols=['#2233cc','#33dd33','#dd2222','#dd22dd'];
  cols.forEach(function(col,ci){mk('polyline',{points:poly(p.qc,p.cc,sx,function(v){return cy3(v)+ci*0.6-0.9;}),fill:'none',stroke:col,'stroke-width':1},'fit-curve',g);});
  txt(p.x0+8,339,'PH  ENIX',{'font-family':SANS,'font-size':7,'font-weight':'bold'},'phenix-logo');
  mk('path',{d:'M'+(p.x0+8)+',331 q10,-5 20,0 q10,-5 20,0',fill:'none',stroke:'#e33','stroke-width':0.8},'phenix-logo-arc',g);
  txt(p.x0+4,346,'PRELIMINARY',{'font-family':SANS,'font-size':7,'font-weight':'bold',fill:'#ee2222'},'preliminary-label');
  txt(p.x0+w-18,372,'[GeV/c]',{'font-family':SANS,'font-size':8,'font-weight':'bold','text-anchor':'end'},'x-axis-title');
  txt(p.x0+w-70,372,'q',{'font-family':SANS,'font-size':8,'font-weight':'bold'},'x-axis-title');
  txt(p.x0+w-64,375,p.title,{'font-family':SANS,'font-size':5,'font-weight':'bold'},'x-axis-title-sub');
});
tickC2pp.forEach(function(t){txt(3611,cy3(t)+2.5,String(t),{'font-family':SANS,'font-size':7,'font-weight':'bold','text-anchor':'end'},'y-tick-label');});
txt(3597,268,'C₂(q) [q⊥< 80 MeV/c]',{'font-family':SANS,'font-size':7,'font-weight':'bold','text-anchor':'middle',transform:'rotate(-90 3597 268)'},'y-axis-title');
mk('rect',{x:3656,y:194,width:88,height:51,fill:'#f0f0f0',stroke:'#999'},'legend-box',f3);
[['#2233cc','Bowler-Sinyukov'],['#33dd33','Dilution'],['#dd2222','Gaussian'],['#dd22dd','F_C(q)*Gaussian']].forEach(function(d,i){
  mk('line',{x1:3661,y1:200+i*12,x2:3676,y2:200+i*12,stroke:d[0],'stroke-width':1.2},'legend-marker',f3);
  txt(3680,202+i*12,d[1],{'font-family':SANS,'font-size':6,'font-weight':'bold'},'legend-entry');});
txt(3779,201,'π⁺π⁺',{'font-family':SANS,'font-size':6.5,'font-weight':'bold'},'annotation');
txt(3779,211,'Min Bias p+p √s=200 GeV',{'font-family':SANS,'font-size':6.5,'font-weight':'bold'},'annotation');
const an3=txt(3779,221,'0.2<k',{'font-family':SANS,'font-size':6.5,'font-weight':'bold'},'annotation');span(an3,'T',{'font-size':4.5,dy:1.5});span(an3,'<1 GeV/c',{dy:-1.5});
</script>
</body></html>
